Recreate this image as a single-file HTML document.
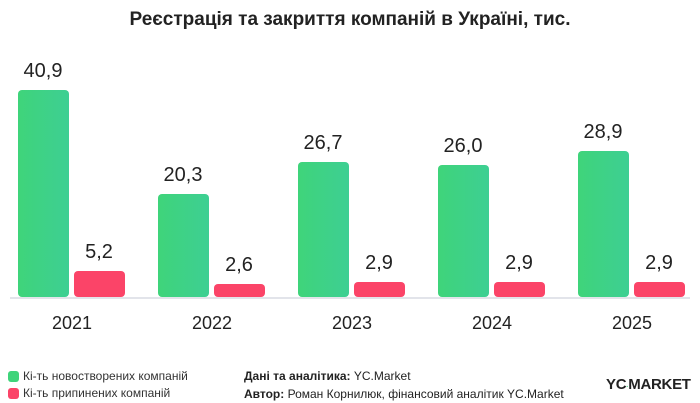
<!DOCTYPE html>
<html><head><meta charset="utf-8"><style>
body{margin:0;width:700px;height:403px;background:#fff;font-family:"Liberation Sans",sans-serif;color:#222;position:relative;overflow:hidden}
.a{position:absolute}
.g{position:absolute;width:51px;border-radius:4px;background:linear-gradient(90deg,#3fd47a,#3dcf93)}
.r{position:absolute;width:51px;border-radius:4px;background:#fb4468}
.v{position:absolute;width:80px;text-align:center;font-size:20px;color:#222}
.y{position:absolute;width:100px;text-align:center;font-size:18px;top:313px;color:#222}
.leg{font-size:12px;color:#333;white-space:nowrap}
</style></head><body>
<div class="a" style="top:9px;width:700px;text-align:center;font-size:19px;font-weight:bold">Реєстрація та закриття компаній в Україні, тис.</div>
<div class="a" style="left:10px;top:297px;width:680px;height:2px;background:#e2e4ea"></div>

<div class="g" style="left:18px;top:90px;height:207px"></div><div class="v" style="left:3px;top:60px">40,9</div>
<div class="r" style="left:74px;top:271px;height:26px"></div><div class="v" style="left:59px;top:241px">5,2</div>
<div class="y" style="left:22px">2021</div>

<div class="g" style="left:158px;top:194px;height:103px"></div><div class="v" style="left:143px;top:164px">20,3</div>
<div class="r" style="left:214px;top:284px;height:13px"></div><div class="v" style="left:199px;top:254px">2,6</div>
<div class="y" style="left:162px">2022</div>

<div class="g" style="left:298px;top:162px;height:135px"></div><div class="v" style="left:283px;top:132px">26,7</div>
<div class="r" style="left:354px;top:282px;height:15px"></div><div class="v" style="left:339px;top:252px">2,9</div>
<div class="y" style="left:302px">2023</div>

<div class="g" style="left:438px;top:165px;height:132px"></div><div class="v" style="left:423px;top:135px">26,0</div>
<div class="r" style="left:494px;top:282px;height:15px"></div><div class="v" style="left:479px;top:252px">2,9</div>
<div class="y" style="left:442px">2024</div>

<div class="g" style="left:578px;top:151px;height:146px"></div><div class="v" style="left:563px;top:121px">28,9</div>
<div class="r" style="left:634px;top:282px;height:15px"></div><div class="v" style="left:619px;top:252px">2,9</div>
<div class="y" style="left:582px">2025</div>

<div class="a" style="left:8px;top:371px;width:11px;height:11px;border-radius:3px;background:#3fd47a"></div>
<div class="a leg" style="left:23px;top:369px">Кі-ть новостворених компаній</div>
<div class="a" style="left:8px;top:388px;width:11px;height:11px;border-radius:3px;background:#fb4468"></div>
<div class="a leg" style="left:23px;top:386px">Кі-ть припинених компаній</div>
<div class="a leg" style="left:244px;top:369px;color:#222"><b>Дані та аналітика:</b> YC.Market</div>
<div class="a leg" style="left:244px;top:387px;color:#222"><b>Автор:</b> Роман Корнилюк, фінансовий аналітик YC.Market</div>
<div class="a" style="left:606px;top:376px;font-size:15px;font-weight:bold;color:#222;white-space:nowrap;letter-spacing:-0.3px">YC<span style="color:#3fd47a;font-size:7px">·</span>MARKET</div>
</body></html>
